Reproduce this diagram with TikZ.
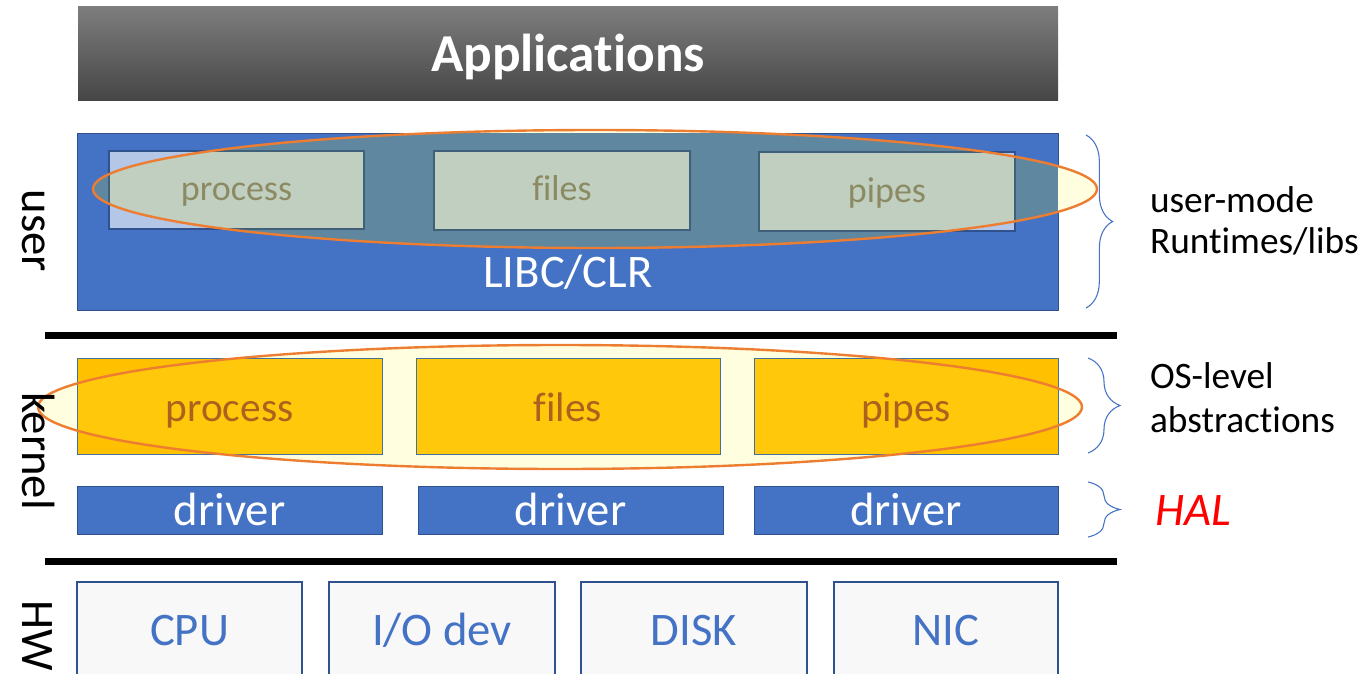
\documentclass[tikz,border=0pt]{standalone}
\usepackage{fontspec}
\setmainfont{Carlito}[Ligatures=NoCommon]
\usetikzlibrary{decorations.pathreplacing}
\definecolor{ublue}{HTML}{4472C4}
\definecolor{dblue}{HTML}{2F528F}
\definecolor{lblue}{HTML}{B4C7E7}
\definecolor{gold}{HTML}{FFC000}
\definecolor{kedge}{HTML}{41719C}
\definecolor{ovl}{HTML}{FFFFE0}
\definecolor{ovblue}{HTML}{5F87A0}
\definecolor{ovlblue}{HTML}{C0CFC0}
\definecolor{ovedge}{HTML}{3F6078}
\definecolor{ovgold}{HTML}{FFC80A}
\definecolor{eorange}{HTML}{ED7D31}
\definecolor{olivetext}{HTML}{8C8A62}
\definecolor{ktext}{HTML}{AC621E}
\definecolor{hwfill}{HTML}{F8F8F8}
\definecolor{apptop}{HTML}{7D7D7D}
\definecolor{appbot}{HTML}{464646}
\definecolor{halred}{HTML}{FF0000}
\begin{document}
\begin{tikzpicture}[x=0.75pt,y=-0.75pt,
  every node/.style={inner sep=0pt, outer sep=0pt},
  sz/.style 2 args={minimum width=#1*0.75pt, minimum height=#2*0.75pt},
  ubox/.style={fill=ublue, draw=dblue, line width=0.75pt},
  libbox/.style={fill=lblue, draw=dblue, line width=1.5pt},
  kbox/.style={fill=gold, draw=kedge, line width=0.75pt},
  drvbox/.style={fill=ublue, draw=dblue, line width=0.75pt, text=white,
    font=\fontsize{35}{42}\selectfont, text height=22.5pt, text depth=0pt},
  hwbox/.style={fill=hwfill, draw=dblue, line width=1.2pt, text=ublue,
    font=\fontsize{35}{42}\selectfont, text height=21pt, text depth=0pt},
  sepline/.style={line width=5.25pt, black},
  oval/.style={draw=eorange, line width=1.8pt},
  brc/.style={draw=ublue, line width=0.8pt, decorate, decoration={brace, amplitude=#1}},
  sidelbl/.style={rotate=-90, anchor=base, font=\fontsize{35}{42}\selectfont},
  note/.style={anchor=base west, font=\fontsize{28}{34}\selectfont},
  utext/.style={anchor=base, text=olivetext, font=\fontsize{27}{32}\selectfont},
  ktxt/.style={anchor=base, text=ktext, font=\fontsize{31}{37}\selectfont}]
\useasboundingbox (0,0) rectangle (1366,674);
\clip (0,0) rectangle (1366,674);

% Applications bar
\node[sz={980}{93}, top color=apptop, bottom color=appbot, text=white,
      font=\fontsize{40}{48}\selectfont\bfseries, text height=27.75pt, text depth=0pt] (apps) at (568,53.5) {Applications};

% user layer
\node[ubox, sz={981}{177}] (ubox) at (567.5,221.5) {};
\node[libbox, sz={255}{78}] (uproc) at (236.5,190) {};
\node[libbox, sz={256}{79}] (ufile) at (562,190.5) {};
\node[libbox, sz={256}{79}] (upipe) at (887,191.5) {};

\fill[ovl] (595,189) ellipse [x radius=376.5pt, y radius=44.25pt];
\begin{scope}
  \clip (595,189) ellipse [x radius=376.5pt, y radius=44.25pt];
  \fill[ovblue] (ubox.south west) rectangle (ubox.north east);
  \foreach \b in {uproc,ufile,upipe}{
    \filldraw[fill=ovlblue, draw=ovedge, line width=1.5pt] (\b.south west) rectangle (\b.north east);
  }
\end{scope}
\draw[oval] (595,189) ellipse [x radius=376.5pt, y radius=44.25pt];

\node[utext] (tuproc) at (236.5,200) {process};
\node[utext] (tufile) at (562,200) {files};
\node[utext] (tupipe) at (887,202) {pipes};
\node[text=white, font=\fontsize{35}{42}\selectfont] (libc) at (568,272) {LIBC/CLR};

% separator 1
\coordinate (s1a) at (45,335);
\coordinate (s1b) at (1117,335);
\draw[sepline] (s1a) -- (s1b);

% kernel layer
\node[kbox, sz={305}{96}] (kproc) at (229.5,406) {};
\node[kbox, sz={304}{96}] (kfile) at (568,406) {};
\node[kbox, sz={304}{96}] (kpipe) at (906,406) {};

\fill[ovl] (560,407) ellipse [x radius=391.5pt, y radius=46.5pt];
\begin{scope}
  \clip (560,407) ellipse [x radius=391.5pt, y radius=46.5pt];
  \foreach \b in {kproc,kfile,kpipe}{
    \filldraw[fill=ovgold, draw=kedge, line width=0.75pt] (\b.south west) rectangle (\b.north east);
  }
\end{scope}
\draw[oval] (560,407) ellipse [x radius=391.5pt, y radius=46.5pt];

\node[ktxt] (tkproc) at (229.5,421) {process};
\node[ktxt] (tkfile) at (568,421) {files};
\node[ktxt] (tkpipe) at (906,421) {pipes};

% drivers
\node[drvbox, sz={305}{48}] (d1) at (229.5,510) {driver};
\node[drvbox, sz={305}{48}] (d2) at (570.5,510) {driver};
\node[drvbox, sz={304}{48}] (d3) at (906,510) {driver};

% separator 2
\coordinate (s2a) at (45,561.5);
\coordinate (s2b) at (1117,561.5);
\draw[sepline] (s2a) -- (s2b);

% hardware
\node[hwbox, sz={225}{98}] (cpu) at (189.5,631) {CPU};
\node[hwbox, sz={226}{98}] (iod) at (442,631) {I/O dev};
\node[hwbox, sz={226}{98}] (disk) at (694,631) {DISK};
\node[hwbox, sz={224}{98}] (nic) at (946,631) {NIC};

% side labels
\node[sidelbl] (luser) at (22,231) {user};
\node[sidelbl] (lkern) at (22,451) {kernel};
\node[sidelbl] (lhw) at (22,636) {HW};

% braces
\coordinate (b1t) at (1086,135);
\coordinate (b1b) at (1086,308);
\draw[brc=20pt] (b1t) -- (b1b);
\coordinate (b2t) at (1088,358);
\coordinate (b2b) at (1088,453);
\draw[brc=24pt] (b2t) -- (b2b);
\coordinate (b3t) at (1088,482);
\coordinate (b3b) at (1088,537);
\draw[brc=24pt] (b3t) -- (b3b);

% notes
\node[note] (n1a) at (1150,212) {user-mode};
\node[note] (n1b) at (1150,253) {Runtimes/libs};
\node[note] (n2a) at (1150,388) {OS-level};
\node[note] (n2b) at (1150,432) {abstractions};
\node[anchor=base west, text=halred, font=\fontsize{35}{42}\selectfont\itshape] (hal) at (1155,525) {HAL};
\end{tikzpicture}
\end{document}
